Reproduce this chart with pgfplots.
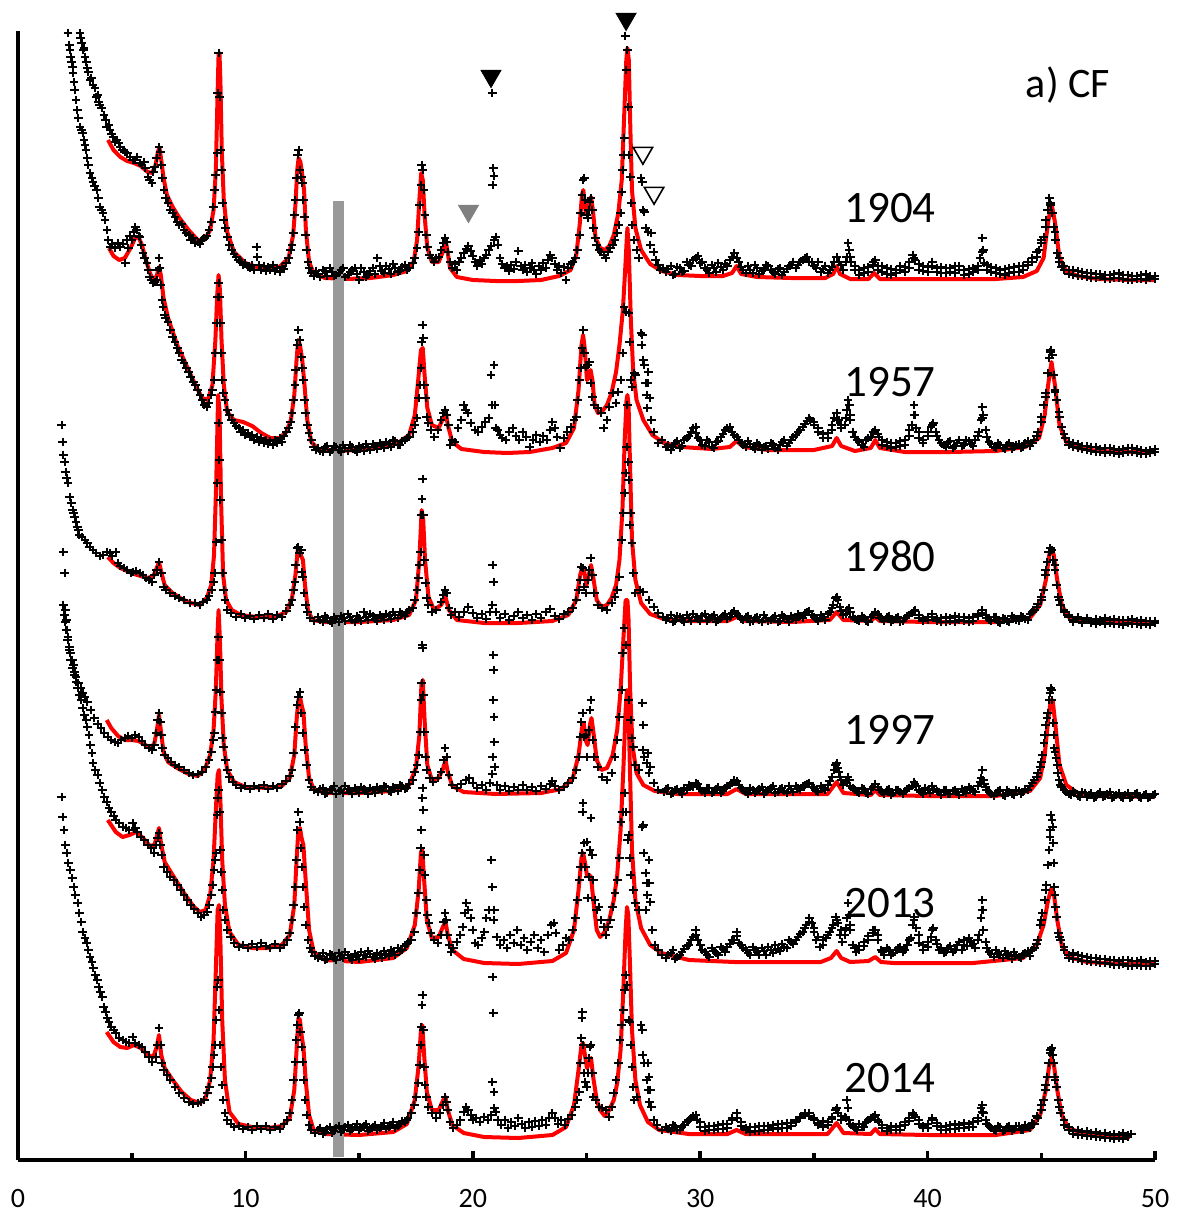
\documentclass[border=0pt]{standalone}
\usepackage{fontspec}
\setmainfont{Carlito}
\usepackage{pgfplots}
\pgfplotsset{compat=1.18}
\tikzset{yearlab/.style={font=\fontsize{22.5bp}{27bp}\selectfont, anchor=center, inner sep=0pt}}
\begin{document}
\begin{tikzpicture}
\begin{axis}[
  scale only axis, width=568.5bp, height=564.5bp,
  xmin=0, xmax=50, ymin=31, ymax=1160, y dir=reverse,
  axis x line*=bottom, axis y line*=left,
  axis line style={line width=2bp, -},
  ytick=\empty,
  xtick={0,10,...,50}, minor xtick={5,15,...,45},
  tick align=inside,
  major tick length=4.5bp, minor tick length=3.5bp,
  tick style={line width=1.8bp, black},
  xticklabel style={font=\fontsize{14bp}{16bp}\selectfont, yshift=-11bp},
  /pgf/number format/assume math mode=true,
  clip=false,
  fitline/.style={red, line width=2bp, line join=round, no marks},
  obs/.style={only marks, mark=+, mark size=2.2bp, mark options={line width=1bp, black}},
]
% ---------------- fitted profiles ----------------
% 1904
\addplot[fitline] coordinates {(3.96,140)(4.2,150)(4.5,157)(4.8,161)(5.1,163)(5.4,166)(5.7,172)(5.9,173)(6.05,165)(6.15,152)(6.22,148)(6.3,160)(6.4,178)(6.55,195)(6.8,207)(7.1,218)(7.5,230)(7.9,240)(8.2,240)(8.45,230)(8.6,210)(8.7,170)(8.77,100)(8.82,55)(8.86,53)(8.9,80)(8.96,150)(9.05,200)(9.2,232)(9.5,252)(10,263)(10.5,267)(11,268)(11.5,267)(11.9,258)(12.1,235)(12.2,205)(12.28,170)(12.34,158)(12.42,162)(12.5,175)(12.58,190)(12.66,230)(12.8,262)(13,273)(13.5,278)(14.5,279)(15.5,278)(16.5,275)(17.1,271)(17.4,262)(17.55,240)(17.65,200)(17.73,173)(17.8,180)(17.88,215)(18,248)(18.2,262)(18.5,262)(18.68,252)(18.8,240)(18.88,250)(19.0,268)(19.3,277)(20,280)(21,281)(22,281)(23,280)(23.8,276)(24.3,270)(24.55,255)(24.7,225)(24.8,195)(24.86,190)(24.95,210)(25.05,215)(25.13,200)(25.2,197)(25.28,210)(25.4,238)(25.6,248)(25.8,250)(26.0,246)(26.2,235)(26.4,213)(26.55,180)(26.65,120)(26.75,60)(26.8,48)(26.86,60)(26.93,130)(27.0,190)(27.15,228)(27.4,250)(27.8,264)(28.3,271)(29,275)(30,276)(31,276)(31.4,273)(31.6,266)(31.8,274)(32.5,277)(34,278)(35.5,278)(35.85,274)(36.0,266)(36.15,274)(36.6,279)(37.4,279)(37.65,273)(37.9,279)(39,279)(41,279)(43,279)(44.2,277)(44.8,271)(45.1,258)(45.3,222)(45.45,204)(45.6,222)(45.8,258)(46.1,271)(46.6,276)(47.5,279)(49,280)(50,280)};
% 1957
\addplot[fitline] coordinates {(4.0,248)(4.2,256)(4.45,260)(4.7,258)(4.95,248)(5.15,238)(5.3,237)(5.45,245)(5.6,258)(5.8,273)(5.95,280)(6.1,276)(6.2,267)(6.28,275)(6.4,298)(6.6,318)(7.0,345)(7.4,365)(7.8,385)(8.1,398)(8.35,400)(8.55,385)(8.68,340)(8.76,295)(8.82,275)(8.88,290)(8.95,340)(9.05,385)(9.2,412)(9.5,420)(9.9,422)(10.3,426)(10.7,433)(11.1,438)(11.5,438)(11.8,432)(12.0,420)(12.15,395)(12.25,360)(12.32,340)(12.4,345)(12.5,360)(12.6,385)(12.72,420)(12.9,442)(13.2,449)(14,451)(15,450)(16,447)(16.7,443)(17.2,435)(17.45,415)(17.6,380)(17.72,350)(17.8,348)(17.88,375)(18.0,408)(18.2,425)(18.5,428)(18.7,418)(18.8,410)(18.9,425)(19.1,442)(19.5,449)(20.5,452)(21.5,453)(22.5,452)(23.5,448)(24.1,443)(24.45,428)(24.65,390)(24.78,345)(24.85,335)(24.93,350)(25.02,380)(25.1,378)(25.18,370)(25.26,380)(25.36,405)(25.5,413)(25.7,411)(25.9,405)(26.1,393)(26.3,372)(26.45,345)(26.6,310)(26.7,270)(26.78,235)(26.8,228)(26.86,250)(26.95,320)(27.05,370)(27.2,400)(27.5,420)(27.9,435)(28.4,443)(29.2,447)(30.5,449)(31.3,447)(31.6,441)(31.9,447)(33,450)(35,450)(35.8,446)(36.0,438)(36.2,446)(36.8,451)(37.5,448)(37.7,440)(37.9,448)(39,452)(41,452)(43,451)(44.3,447)(44.9,438)(45.15,415)(45.3,385)(45.45,362)(45.6,385)(45.8,425)(46.1,442)(46.6,448)(47.5,451)(49,452)(50,452)};
% 1980
\addplot[fitline] coordinates {(3.95,557)(4.2,563)(4.5,568)(4.8,571)(5.1,574)(5.4,576)(5.7,578)(5.95,576)(6.1,568)(6.2,562)(6.3,572)(6.45,585)(6.8,593)(7.2,599)(7.6,603)(8.0,605)(8.3,598)(8.5,585)(8.62,555)(8.72,480)(8.8,395)(8.86,410)(8.93,500)(9.02,575)(9.15,600)(9.4,610)(9.8,615)(10.5,617)(11.3,617)(11.8,612)(12.05,598)(12.2,575)(12.3,550)(12.37,548)(12.45,556)(12.53,560)(12.62,585)(12.75,610)(12.95,620)(13.5,622)(15,622)(16.5,620)(17.2,615)(17.5,600)(17.65,560)(17.75,510)(17.82,520)(17.9,560)(18.05,597)(18.3,610)(18.6,605)(18.8,597)(18.95,610)(19.3,620)(20.5,623)(22,623)(23.5,621)(24.2,615)(24.55,600)(24.72,575)(24.82,567)(24.9,572)(25.0,585)(25.1,575)(25.2,565)(25.3,578)(25.45,600)(25.65,607)(25.9,605)(26.1,598)(26.3,585)(26.45,560)(26.58,510)(26.68,440)(26.76,400)(26.8,395)(26.85,405)(26.92,470)(27.0,540)(27.15,580)(27.4,603)(27.8,614)(28.4,619)(29.5,621)(31.2,621)(31.6,617)(32,621)(34,622)(35.7,620)(36.0,612)(36.3,620)(37.5,621)(37.7,617)(37.9,621)(40,622)(43,622)(44.5,618)(44.95,605)(45.2,580)(45.35,555)(45.45,548)(45.55,555)(45.7,580)(45.9,605)(46.2,617)(47,621)(48.5,622)(50,622)};
% 1997
\addplot[fitline] coordinates {(3.9,720)(4.1,728)(4.4,736)(4.7,740)(5.0,740)(5.3,741)(5.6,745)(5.85,748)(6.0,743)(6.12,728)(6.2,715)(6.28,730)(6.4,752)(6.6,762)(7.0,768)(7.5,774)(7.9,776)(8.2,770)(8.45,755)(8.6,730)(8.7,690)(8.78,630)(8.82,610)(8.88,640)(8.95,700)(9.05,745)(9.2,770)(9.5,782)(10,787)(11,788)(11.6,786)(11.95,778)(12.15,755)(12.25,720)(12.33,700)(12.4,697)(12.47,705)(12.55,712)(12.65,745)(12.8,778)(13,789)(13.5,793)(15,793)(16.5,791)(17.2,785)(17.5,768)(17.65,735)(17.74,685)(17.8,680)(17.88,720)(18.0,765)(18.2,780)(18.5,778)(18.7,768)(18.8,760)(18.9,772)(19.1,786)(19.6,792)(21,794)(23,793)(23.9,789)(24.4,778)(24.65,755)(24.8,728)(24.88,723)(24.96,740)(25.05,745)(25.15,725)(25.22,718)(25.32,735)(25.45,760)(25.65,770)(25.9,768)(26.15,755)(26.35,730)(26.5,690)(26.62,640)(26.72,600)(26.8,600)(26.85,620)(26.92,690)(27.02,745)(27.2,773)(27.5,785)(28,791)(29,794)(31.2,794)(31.6,789)(32,794)(35.6,794)(36.0,782)(36.3,793)(37.5,795)(37.7,790)(37.9,795)(40,796)(43,796)(44.5,791)(44.95,778)(45.15,755)(45.3,720)(45.42,700)(45.5,700)(45.62,725)(45.8,765)(46.1,785)(46.6,793)(47.5,796)(50,797)};
% 2013
\addplot[fitline] coordinates {(3.95,820)(4.3,832)(4.6,837)(4.9,835)(5.2,832)(5.5,838)(5.8,846)(6.0,845)(6.12,835)(6.2,828)(6.3,845)(6.45,862)(6.8,875)(7.3,893)(7.7,906)(8.0,912)(8.25,910)(8.45,895)(8.6,860)(8.7,810)(8.78,775)(8.84,770)(8.9,800)(8.98,860)(9.1,905)(9.3,932)(9.7,945)(10.3,948)(11,948)(11.6,945)(11.95,935)(12.15,905)(12.25,860)(12.33,830)(12.4,828)(12.47,838)(12.55,845)(12.65,880)(12.8,930)(13,952)(13.5,960)(15,962)(16.5,958)(17.1,948)(17.45,925)(17.62,890)(17.72,852)(17.78,850)(17.86,880)(17.98,920)(18.2,938)(18.5,937)(18.7,926)(18.8,922)(18.9,935)(19.1,950)(19.6,959)(20.5,963)(22,964)(23.5,961)(24.1,953)(24.45,930)(24.65,890)(24.78,858)(24.85,853)(24.93,862)(25.02,875)(25.12,875)(25.2,877)(25.3,900)(25.45,930)(25.6,937)(25.8,932)(26.0,920)(26.2,900)(26.35,875)(26.5,830)(26.62,770)(26.72,710)(26.78,690)(26.84,700)(26.9,760)(27.0,850)(27.15,900)(27.4,928)(27.8,945)(28.3,953)(29.5,960)(31.5,962)(33.5,962)(35.3,962)(35.75,958)(36.0,951)(36.2,958)(36.6,962)(37.4,961)(37.7,957)(37.95,962)(38.5,963)(42,963)(44.2,958)(44.8,945)(45.1,925)(45.3,900)(45.45,888)(45.55,893)(45.7,920)(45.9,945)(46.2,957)(47,962)(48.5,964)(50,964)};
% 2014
\addplot[fitline] coordinates {(3.9,1032)(4.2,1042)(4.5,1047)(4.8,1048)(5.1,1045)(5.4,1048)(5.7,1055)(5.95,1057)(6.1,1047)(6.2,1035)(6.3,1055)(6.45,1068)(6.8,1080)(7.2,1092)(7.6,1100)(8.0,1103)(8.25,1098)(8.45,1080)(8.6,1040)(8.7,970)(8.78,910)(8.84,905)(8.9,940)(8.98,1020)(9.1,1080)(9.3,1112)(9.7,1124)(10.3,1127)(11,1128)(11.6,1126)(11.95,1118)(12.15,1090)(12.25,1050)(12.33,1018)(12.4,1020)(12.47,1035)(12.55,1047)(12.65,1080)(12.8,1115)(13,1130)(13.5,1134)(15,1135)(16.5,1132)(17.1,1124)(17.45,1100)(17.62,1065)(17.72,1030)(17.78,1025)(17.86,1055)(17.98,1092)(18.2,1110)(18.5,1110)(18.7,1100)(18.8,1097)(18.9,1110)(19.1,1125)(19.6,1133)(20.5,1137)(22,1138)(23.5,1135)(24.1,1127)(24.45,1105)(24.65,1070)(24.78,1045)(24.85,1043)(24.93,1055)(25.02,1068)(25.12,1063)(25.2,1058)(25.3,1078)(25.45,1100)(25.6,1110)(25.8,1116)(26.0,1110)(26.2,1100)(26.35,1083)(26.5,1050)(26.62,990)(26.72,930)(26.78,907)(26.84,915)(26.92,970)(27.0,1030)(27.15,1080)(27.35,1105)(27.7,1122)(28.2,1130)(29.5,1134)(31.2,1134)(31.6,1130)(32,1134)(35.6,1134)(36.0,1123)(36.3,1133)(37.5,1134)(37.7,1129)(37.9,1134)(40,1135)(43,1135)(44.5,1130)(44.95,1115)(45.2,1090)(45.35,1065)(45.45,1058)(45.55,1064)(45.7,1090)(45.9,1115)(46.2,1128)(47,1135)(48.9,1137)};
% ---------------- measured points ----------------
% 1904
\addplot[obs] coordinates {(2.73,33)(2.76,38)(2.8,43)(2.87,50)(2.9,48)(2.95,57)(3.0,62)(3.05,68)(3.1,72)(3.17,80)(3.23,78)(3.3,85)(3.39,88)(3.45,97)(3.5,95)(3.55,102)(3.6,105)(3.68,108)(3.78,115)(3.85,120)(3.9,127)(4.0,125)(4.05,130)(4.12,134)(4.18,137)(4.27,142)(4.35,140)(4.42,143)(4.49,147)(4.6,150)(4.7,152)(4.8,153)(4.93,157)(5.05,160)(5.15,160)(5.25,157)(5.36,163)(5.45,165)(5.55,162)(5.6,168)(5.72,177)(5.8,180)(5.89,183)(5.95,172)(6.02,167)(6.1,158)(6.2,147)(6.25,152)(6.3,165)(6.35,178)(6.42,190)(6.5,198)(6.6,203)(6.7,210)(6.8,213)(6.9,217)(7.0,222)(7.1,225)(7.2,224)(7.3,230)(7.4,233)(7.5,235)(7.6,240)(7.7,238)(7.8,243)(7.9,242)(8.0,244)(8.1,240)(8.2,238)(8.3,236)(8.4,230)(8.5,222)(8.58,207)(8.65,190)(8.7,175)(8.75,153)(8.79,93)(8.83,53)(8.87,97)(8.91,150)(8.95,170)(9.0,203)(9.05,220)(9.12,228)(9.2,237)(9.3,245)(9.4,250)(9.5,254)(9.6,257)(9.7,260)(9.8,262)(9.9,265)(10.0,263)(10.1,267)(10.2,268)(10.3,265)(10.4,270)(10.5,247)(10.52,257)(10.6,265)(10.7,270)(10.8,266)(10.9,271)(11.0,267)(11.1,270)(11.2,265)(11.3,271)(11.4,268)(11.5,272)(11.6,267)(11.7,269)(11.8,263)(11.9,258)(12.0,250)(12.05,245)(12.1,233)(12.15,215)(12.2,200)(12.25,178)(12.3,155)(12.35,150)(12.4,170)(12.45,177)(12.5,183)(12.55,200)(12.6,217)(12.65,235)(12.7,250)(12.75,262)(12.8,268)(12.9,273)(13.0,276)(13.1,271)
(13.2,274)(13.4,270)(13.6,276)(13.8,272)(14.0,275)(14.2,270)(14.4,277)(14.6,272)(14.8,268)(15.0,280)(15.2,272)(15.4,275)(15.6,268)(15.8,258)(16.0,271)(16.2,266)(16.4,274)(16.6,268)(16.8,271)(17.0,265)(17.2,268)
(13.3,277)(13.5,271)(13.7,268)(13.9,276)(14.1,273)(14.3,268)(14.5,275)(14.7,270)(14.9,274)(15.1,268)(15.3,277)(15.5,271)(15.7,274)(15.9,266)(16.1,273)(16.3,269)(16.5,264)(16.7,272)(16.9,267)(17.1,270)
(17.35,263)(17.45,258)(17.55,248)(17.62,232)(17.67,205)(17.72,185)(17.76,165)(17.8,170)(17.85,190)(17.9,215)(17.95,235)(18.0,247)(18.1,255)(18.2,258)(18.3,262)(18.4,258)(18.5,257)(18.6,250)(18.7,243)(18.78,238)(18.85,242)(18.92,252)(19.0,262)(19.1,268)(19.2,264)(19.3,270)(19.4,262)(19.5,258)(19.6,253)(19.7,249)(19.8,246)(19.9,251)(20.0,256)(20.1,262)(20.2,266)(20.3,260)(20.4,264)(20.5,258)(20.6,255)(20.7,250)(20.8,246)(20.85,93)(20.9,168)(20.93,176)(20.88,185)(20.95,240)(21.0,237)(21.1,245)(21.2,258)(21.3,264)(21.4,268)(21.5,266)(21.6,271)(21.7,265)(21.8,269)(21.9,262)(22.0,251)(22.1,266)(22.2,270)(22.3,265)(22.4,272)(22.5,268)(22.6,263)(22.7,270)(22.8,274)(22.9,266)(23.0,270)(23.1,263)(23.2,268)(23.3,260)(23.4,255)(23.5,258)(23.6,264)(23.7,270)(23.8,266)(23.9,273)(24.0,267)(24.1,280)(24.2,268)(24.3,264)(24.4,262)(24.5,258)(24.6,250)(24.7,235)(24.75,213)(24.8,195)(24.85,180)(24.9,178)(24.95,200)(25.0,215)(25.05,218)(25.1,210)(25.15,202)(25.2,198)(25.25,210)(25.3,228)(25.38,238)(25.45,245)(25.55,250)(25.65,252)(25.75,255)(25.85,258)(25.95,252)(26.05,248)(26.15,245)(26.25,240)(26.35,233)(26.42,225)(26.5,213)(26.55,192)(26.6,170)(26.63,155)(26.67,138)(26.7,36)(26.75,70)(26.8,50)(26.83,107)(26.87,155)(26.92,177)(26.97,203)(27.02,225)(27.1,240)(27.2,250)(27.3,258)(27.4,178)(27.45,182)(27.5,210)(27.55,212)(27.6,228)(27.7,232)(27.8,245)(27.85,233)(27.95,252)(28.05,260)(28.15,265)(28.25,270)(28.35,268)
(28.5,272)(28.7,266)(28.9,274)(29.1,268)(29.3,271)(29.5,265)(29.7,260)(29.9,256)(30.1,262)(30.3,270)(30.5,265)(30.7,272)(30.9,267)(31.1,264)(31.3,260)(31.5,253)(31.7,262)(31.9,270)(32.1,266)(32.3,273)(32.5,268)(32.7,271)(32.9,265)(33.1,270)(33.3,274)(33.5,268)(33.7,272)(33.9,266)(34.1,262)(34.3,265)(34.5,260)(34.7,257)(34.9,262)(35.1,268)(35.3,272)(35.5,266)(35.7,270)(35.9,262)(36.0,257)(36.1,262)(36.3,270)(36.45,257)(36.5,243)(36.55,250)(36.65,262)(36.8,270)(37.0,275)(37.2,268)(37.4,272)(37.6,265)(37.7,260)(37.8,266)(38.0,272)(38.2,268)(38.4,275)(38.6,270)(38.8,266)(39.0,272)(39.2,268)(39.35,255)(39.45,260)(39.6,270)(39.8,266)(40.0,272)(40.2,262)(40.4,268)(40.6,273)(40.8,268)(41.0,272)(41.2,266)(41.4,270)(41.6,275)(41.8,269)(42.0,272)(42.2,266)(42.3,258)(42.4,238)(42.45,250)(42.5,263)(42.6,270)(42.8,267)(43.0,273)(43.2,270)(43.4,275)(43.6,268)(43.8,272)(44.0,266)(44.2,270)(44.4,265)(44.6,262)(44.8,257)(44.9,250)(45.0,243)(45.1,237)(45.2,227)(45.28,210)(45.35,198)(45.42,205)(45.48,213)(45.55,227)(45.62,240)(45.7,253)(45.8,262)(45.9,267)(46.0,270)(46.2,274)(46.4,270)(46.6,276)(46.8,272)(47.0,277)(47.2,273)(47.4,278)(47.6,274)(47.8,279)(48.0,275)(48.2,278)(48.4,273)(48.6,279)(48.8,275)(49.0,280)(49.2,276)(49.4,279)(49.6,274)(49.8,278)(50.0,276)
(28.6,269)(28.8,275)(29.0,267)(29.2,272)(29.4,262)(29.6,266)(29.8,258)(30.0,263)(30.2,268)(30.4,273)(30.6,268)(30.8,263)(31.0,270)(31.2,266)(31.4,257)(31.6,258)(31.8,267)(32.0,273)(32.2,270)(32.4,265)(32.6,274)(32.8,270)(33.0,266)(33.2,272)(33.4,269)(33.6,275)(33.8,269)(34.0,265)(34.2,268)(34.4,262)(34.6,258)(34.8,262)(35.0,266)(35.2,262)(35.4,269)(35.6,273)(35.8,267)(36.2,265)(36.4,262)(36.6,257)(36.8,266)(37.0,270)(37.2,273)(37.4,267)(37.6,262)(37.8,270)(38.0,266)(38.2,274)(38.4,269)(38.6,273)(38.8,270)(39.0,267)(39.2,262)(39.4,258)(39.6,264)(39.8,271)(40.0,267)(40.2,266)(40.4,272)(40.6,267)(40.8,273)(41.0,268)(41.2,273)(41.4,266)(41.6,270)(41.8,274)(42.0,268)(42.2,270)(42.4,252)(42.6,265)(42.8,272)(43.0,268)(43.2,274)(43.4,269)(43.6,273)(43.8,267)(44.0,272)(44.2,266)(44.4,262)(44.6,258)(44.8,252)(45.0,240)(45.2,220)(45.4,203)(45.6,232)(45.8,258)(46.0,266)(46.2,270)(46.4,275)(46.6,271)(46.8,276)(47.0,273)(47.2,278)(47.4,274)(47.6,277)(47.8,275)(48.0,279)(48.2,274)(48.4,278)(48.6,275)(48.8,280)(49.0,276)(49.2,279)(49.4,275)(49.6,280)(49.8,276)(50.0,279)};
% 1957
\addplot[obs] coordinates {(2.2,33)(2.25,45)(2.29,50)(2.32,57)(2.37,62)(2.4,67)(2.42,73)(2.46,82)(2.5,90)(2.55,100)(2.6,110)(2.65,118)(2.73,127)(2.8,130)(2.85,133)(2.9,140)(2.95,145)(2.99,150)(3.05,158)(3.09,165)(3.17,173)(3.25,178)(3.3,182)(3.38,186)(3.46,190)(3.53,198)(3.6,207)(3.68,210)(3.74,213)(3.83,220)(3.91,230)(3.97,240)(4.05,247)(4.15,244)(4.27,248)(4.38,243)(4.49,247)(4.6,244)(4.71,263)(4.78,240)(4.85,248)(4.92,236)(5.0,240)(5.08,232)(5.15,227)(5.22,230)(5.3,236)(5.36,237)(5.43,245)(5.5,253)(5.58,258)(5.67,263)(5.73,270)(5.8,277)(5.87,280)(5.94,283)(6.02,282)(6.1,280)(6.15,270)(6.2,258)(6.24,268)(6.28,285)(6.33,300)(6.38,307)(6.45,315)(6.5,318)(6.6,322)(6.7,330)(6.8,337)(6.9,342)(7.0,348)(7.1,353)(7.2,360)(7.3,363)(7.4,368)(7.5,372)(7.6,377)(7.7,382)(7.8,385)(7.9,390)(8.0,395)(8.1,400)(8.2,405)(8.3,407)(8.4,403)(8.5,395)(8.55,390)(8.62,380)(8.68,353)(8.73,323)(8.78,297)(8.82,283)(8.86,297)(8.9,323)(8.94,353)(8.98,380)(9.03,393)(9.1,400)(9.2,410)(9.3,415)(9.4,420)(9.5,423)(9.6,426)(9.7,428)(9.8,432)(9.9,430)(10.0,435)(10.1,433)(10.2,437)(10.3,435)(10.4,440)(10.5,437)(10.6,442)(10.7,438)(10.8,443)(10.9,440)(11.0,444)(11.1,441)(11.2,445)(11.3,440)(11.4,443)(11.5,438)(11.6,442)(11.7,436)(11.8,432)(11.9,428)(12.0,422)(12.05,413)(12.12,400)(12.18,385)(12.22,370)(12.28,345)(12.32,330)(12.38,340)(12.45,357)(12.5,368)(12.55,380)(12.6,400)(12.65,413)(12.72,425)(12.8,433)(12.9,440)(13.0,447)(13.1,450)
(13.2,448)(13.4,452)(13.6,446)(13.8,450)(14.0,447)(14.2,452)(14.4,448)(14.6,445)(14.8,450)(15.0,446)(15.2,451)(15.4,447)(15.6,444)(15.8,449)(16.0,445)(16.2,442)(16.4,447)(16.6,441)(16.8,445)(17.0,440)(17.2,437)
(13.3,451)(13.5,447)(13.7,452)(13.9,446)(14.1,450)(14.3,445)(14.5,451)(14.7,447)(14.9,452)(15.1,448)(15.3,444)(15.5,450)(15.7,446)(15.9,443)(16.1,448)(16.3,444)(16.5,440)(16.7,445)(16.9,441)(17.1,438)
(17.35,432)(17.45,425)(17.55,418)(17.62,398)(17.68,385)(17.72,368)(17.76,342)(17.8,325)(17.83,338)(17.87,385)(17.92,398)(17.97,417)(18.05,423)(18.15,430)(18.3,437)(18.45,430)(18.6,420)(18.7,413)(18.78,410)(18.85,415)(18.92,425)(19.0,445)(19.1,440)(19.2,442)(19.35,428)(19.5,420)(19.6,405)(19.68,410)(19.78,413)(19.9,423)(20.1,430)(20.25,432)(20.4,427)(20.55,422)(20.7,418)(20.8,375)(20.86,405)(20.93,365)(20.96,405)(21.0,428)(21.1,430)(21.2,435)(21.3,438)(21.45,440)(21.6,432)(21.75,428)(21.9,436)(22.05,440)(22.2,432)(22.35,437)(22.5,447)(22.65,440)(22.8,435)(22.95,442)(23.1,436)(23.25,440)(23.4,430)(23.5,422)(23.6,428)(23.7,437)(23.85,448)(24.0,438)(24.15,432)(24.3,427)(24.45,420)(24.55,417)(24.62,400)(24.68,380)(24.74,368)(24.8,348)(24.86,330)(24.9,353)(24.97,367)(25.05,365)(25.12,362)(25.18,383)(25.25,397)(25.35,405)(25.5,408)(25.65,413)(25.75,428)(25.9,420)(26.0,407)(26.15,393)(26.3,403)(26.4,392)(26.5,380)(26.6,353)(26.65,307)(26.75,312)(26.85,313)(26.9,342)(26.95,380)(27.0,387)(27.1,373)(27.15,375)(27.4,333)(27.45,335)(27.42,345)(27.5,360)(27.55,365)(27.6,383)(27.72,372)(27.7,383)(27.65,395)(27.78,398)(27.68,408)(27.85,420)(27.95,432)(28.15,443)(28.3,440)(28.5,447)
(28.7,450)(28.9,443)(29.1,448)(29.3,440)(29.5,436)(29.7,428)(29.8,433)(29.9,438)(30.1,445)(30.3,440)(30.5,447)(30.7,442)(30.9,437)(31.1,430)(31.3,427)(31.5,435)(31.7,440)(31.9,445)(32.1,441)(32.3,447)(32.5,443)(32.7,450)(32.9,446)(33.1,443)(33.3,448)(33.5,445)(33.7,440)(33.9,443)(34.1,437)(34.3,432)(34.5,427)(34.7,421)(34.85,420)(35.0,425)(35.2,432)(35.4,438)(35.6,433)(35.8,425)(35.9,418)(36.0,413)(36.1,420)(36.2,428)(36.35,425)(36.45,410)(36.5,400)(36.55,405)(36.6,420)(36.7,432)(36.9,440)(37.1,445)(37.3,440)(37.5,437)(37.7,430)(37.85,437)(38.0,445)(38.2,442)(38.4,448)(38.6,443)(38.8,446)(39.0,440)(39.2,436)(39.3,425)(39.4,405)(39.45,415)(39.5,428)(39.6,438)(39.8,443)(40.0,436)(40.15,427)(40.25,423)(40.35,432)(40.5,440)(40.7,445)(40.9,442)(41.1,448)(41.3,443)(41.5,446)(41.7,440)(41.9,444)(42.1,440)(42.25,432)(42.35,420)(42.4,407)(42.45,415)(42.55,430)(42.7,442)(42.9,447)(43.1,443)(43.3,448)(43.5,445)(43.7,449)(43.9,445)(44.1,448)(44.3,443)(44.5,446)(44.7,440)(44.85,432)(45.0,417)(45.1,405)(45.2,393)(45.28,373)(45.36,358)(45.42,350)(45.48,355)(45.55,375)(45.6,390)(45.68,400)(45.78,412)(45.9,427)(46.05,438)(46.2,442)(46.4,447)(46.6,444)(46.8,449)(47.0,446)(47.2,451)(47.4,447)(47.6,452)(47.8,448)(48.0,452)(48.2,449)(48.4,454)(48.6,449)(48.8,452)(49.0,448)(49.2,453)(49.4,450)(49.6,454)(49.8,450)(50.0,452)
(28.6,445)(28.8,447)(29.0,441)(29.2,446)(29.4,438)(29.6,432)(29.8,427)(30.0,440)(30.2,446)(30.4,442)(30.6,448)(30.8,441)(31.0,434)(31.2,428)(31.4,432)(31.6,437)(31.8,443)(32.0,447)(32.2,444)(32.4,449)(32.6,445)(32.8,447)(33.0,449)(33.2,444)(33.4,450)(33.6,442)(33.8,446)(34.0,440)(34.2,435)(34.4,430)(34.6,424)(34.8,418)(35.0,422)(35.2,428)(35.4,434)(35.6,438)(35.8,430)(36.0,420)(36.2,425)(36.4,418)(36.6,415)(36.8,437)(37.0,442)(37.2,447)(37.4,438)(37.6,432)(37.8,434)(38.0,440)(38.2,446)(38.4,443)(38.6,447)(38.8,441)(39.0,445)(39.2,430)(39.4,415)(39.6,432)(39.8,440)(40.0,432)(40.2,425)(40.4,436)(40.6,443)(40.8,447)(41.0,441)(41.2,446)(41.4,440)(41.6,445)(41.8,441)(42.0,446)(42.2,436)(42.4,418)(42.6,437)(42.8,444)(43.0,448)(43.2,445)(43.4,449)(43.6,443)(43.8,447)(44.0,444)(44.2,447)(44.4,441)(44.6,443)(44.8,436)(45.0,422)(45.2,397)(45.4,352)(45.6,392)(45.8,417)(46.0,434)(46.2,445)(46.4,443)(46.6,448)(46.8,446)(47.0,450)(47.2,447)(47.4,452)(47.6,449)(47.8,453)(48.0,448)(48.2,453)(48.4,450)(48.6,453)(48.8,448)(49.0,452)(49.2,449)(49.4,454)(49.6,451)(49.8,453)(50.0,449)};
% 1980
\addplot[obs] coordinates {(1.93,425)(1.97,442)(2.0,455)(2.05,462)(2.1,472)(2.15,478)(2.2,483)(2.28,497)(2.35,503)(2.4,510)(2.45,513)(2.5,517)(2.55,522)(2.6,527)(2.65,530)(2.7,535)(2.8,537)(2.95,540)(3.05,543)(3.15,547)(3.3,550)(3.45,553)(3.6,556)(3.75,555)(3.9,552)(4.05,553)(4.15,556)(4.3,552)(4.4,563)(4.5,566)(4.65,568)(4.8,570)(4.95,573)(5.05,572)(5.2,571)(5.35,573)(5.5,575)(5.65,578)(5.75,580)(5.9,582)(6.0,575)(6.1,570)(6.2,562)(6.3,573)(6.4,587)(6.5,590)(6.7,593)(6.9,596)(7.1,598)(7.3,600)(7.55,603)(7.8,603)(8.0,605)(8.15,602)(8.3,600)(8.4,596)(8.52,590)(8.6,582)(8.65,573)(8.72,542)(8.77,483)(8.82,423)(8.86,460)(8.9,500)(8.95,540)(9.0,573)(9.05,590)(9.1,600)(9.2,610)(9.35,613)(9.6,617)(9.8,614)(10.0,618)(10.2,616)(10.4,619)(10.6,615)(10.8,618)(11.0,614)(11.2,619)(11.4,615)(11.6,617)(11.8,611)(11.95,605)(12.05,600)(12.12,590)(12.18,582)(12.22,565)(12.27,548)(12.32,547)(12.38,553)(12.45,550)(12.48,572)(12.52,577)(12.58,593)(12.65,605)(12.72,612)(12.85,618)(13.0,621)
(13.2,617)(13.4,622)(13.6,618)(13.8,623)(14.0,619)(14.2,616)(14.4,621)(14.6,617)(14.8,622)(15.0,618)(15.2,612)(15.4,620)(15.6,616)(15.8,621)(16.0,617)(16.2,614)(16.4,619)(16.6,615)(16.8,612)(17.0,616)(17.2,610)
(13.3,620)(13.5,616)(13.7,621)(13.9,617)(14.1,622)(14.3,618)(14.5,614)(14.7,620)(14.9,616)(15.1,621)(15.3,617)(15.5,614)(15.7,619)(15.9,615)(16.1,620)(16.3,616)(16.5,612)(16.7,618)(16.9,614)(17.1,612)
(17.35,608)(17.45,600)(17.55,590)(17.6,578)(17.65,565)(17.7,552)(17.74,515)(17.77,499)(17.8,479)(17.83,515)(17.87,560)(17.92,583)(17.98,598)(18.05,605)(18.2,612)(18.4,610)(18.6,602)(18.7,595)(18.78,590)(18.85,593)(18.95,608)(19.05,615)(19.2,612)(19.4,617)(19.6,612)(19.8,607)(20.0,613)(20.2,618)(20.4,614)(20.6,619)(20.75,612)(20.85,605)(20.88,565)(20.92,582)(21.0,612)(21.2,618)(21.4,614)(21.6,620)(21.8,616)(22.0,612)(22.2,618)(22.4,615)(22.6,620)(22.8,614)(23.0,618)(23.2,612)(23.4,609)(23.6,616)(23.8,619)(24.0,614)(24.2,612)(24.4,608)(24.55,600)(24.65,590)(24.72,580)(24.78,567)(24.85,568)(24.9,587)(24.97,593)(25.05,580)(25.12,570)(25.18,558)(25.25,575)(25.35,593)(25.5,605)(25.7,608)(25.9,610)(26.1,603)(26.25,597)(26.35,590)(26.45,577)(26.55,540)(26.62,513)(26.68,493)(26.72,473)(26.76,447)(26.8,405)(26.83,462)(26.86,480)(26.9,525)(26.95,513)(27.0,543)(27.05,573)(27.15,593)(27.35,590)(27.5,592)(27.75,600)(27.95,607)(28.15,613)(28.35,617)
(28.5,620)(28.7,615)(28.9,621)(29.1,617)(29.3,622)(29.5,618)(29.7,614)(29.9,619)(30.1,616)(30.3,621)(30.5,617)(30.7,622)(30.9,618)(31.1,614)(31.3,617)(31.5,611)(31.7,616)(31.9,620)(32.1,616)(32.3,621)(32.5,617)(32.7,622)(32.9,618)(33.1,620)(33.3,616)(33.5,621)(33.7,617)(33.9,622)(34.1,618)(34.3,614)(34.5,618)(34.7,612)(34.9,615)(35.1,619)(35.3,615)(35.5,620)(35.7,612)(35.85,605)(35.95,598)(36.05,600)(36.15,607)(36.3,615)(36.45,610)(36.55,608)(36.7,617)(36.9,620)(37.1,616)(37.3,621)(37.5,617)(37.7,612)(37.9,618)(38.1,621)(38.3,616)(38.5,620)(38.7,617)(38.9,621)(39.1,616)(39.3,613)(39.45,610)(39.6,618)(39.8,621)(40.0,617)(40.2,614)(40.4,619)(40.6,622)(40.8,617)(41.0,621)(41.2,616)(41.4,620)(41.6,617)(41.8,622)(42.0,617)(42.2,614)(42.4,610)(42.55,615)(42.7,620)(42.9,617)(43.1,622)(43.3,618)(43.5,621)(43.7,616)(43.9,620)(44.1,616)(44.3,619)(44.5,614)(44.7,610)(44.85,604)(45.0,597)(45.1,590)(45.18,575)(45.25,562)(45.32,552)(45.4,548)(45.47,550)(45.53,560)(45.6,570)(45.67,585)(45.75,597)(45.85,605)(46.0,612)(46.2,617)(46.4,620)(46.6,617)(46.8,622)(47.0,618)(47.2,623)(47.4,619)(47.6,622)(47.8,618)(48.0,623)(48.2,619)(48.4,624)(48.6,620)(48.8,623)(49.0,619)(49.2,624)(49.4,620)(49.6,624)(49.8,621)(50.0,623)
(28.6,618)(28.8,622)(29.0,616)(29.2,620)(29.4,615)(29.6,621)(29.8,617)(30.0,621)(30.2,614)(30.4,619)(30.6,615)(30.8,620)(31.0,616)(31.2,619)(31.4,613)(31.6,614)(31.8,619)(32.0,617)(32.2,622)(32.4,618)(32.6,620)(32.8,615)(33.0,621)(33.2,618)(33.4,622)(33.6,615)(33.8,619)(34.0,616)(34.2,620)(34.4,616)(34.6,613)(34.8,611)(35.0,617)(35.2,621)(35.4,617)(35.6,614)(35.8,608)(36.0,597)(36.2,611)(36.4,614)(36.6,612)(36.8,619)(37.0,621)(37.2,618)(37.4,622)(37.6,615)(37.8,614)(38.0,619)(38.2,617)(38.4,622)(38.6,618)(38.8,622)(39.0,618)(39.2,615)(39.4,611)(39.6,615)(39.8,619)(40.0,620)(40.2,617)(40.4,621)(40.6,618)(40.8,622)(41.0,618)(41.2,622)(41.4,617)(41.6,621)(41.8,618)(42.0,621)(42.2,616)(42.4,613)(42.6,618)(42.8,621)(43.0,617)(43.2,623)(43.4,619)(43.6,622)(43.8,618)(44.0,621)(44.2,617)(44.4,620)(44.6,612)(44.8,607)(45.0,600)(45.2,570)(45.4,552)(45.6,565)(45.8,600)(46.0,610)(46.2,615)(46.4,622)(46.6,619)(46.8,623)(47.0,620)(47.2,621)(47.4,624)(47.6,620)(47.8,624)(48.0,620)(48.2,624)(48.4,620)(48.6,625)(48.8,620)(49.0,624)(49.2,621)(49.4,625)(49.6,621)(49.8,625)(50.0,621)};
% 1997
\addplot[obs] coordinates {(2.0,552)(2.05,573)(2.08,610)(2.12,620)(2.15,630)(2.2,637)(2.25,647)(2.3,653)(2.38,660)(2.45,665)(2.5,672)(2.55,677)(2.65,683)(2.75,688)(2.85,693)(2.95,697)(3.05,702)(3.2,710)(3.35,718)(3.5,724)(3.65,728)(3.8,733)(3.95,737)(4.1,740)(4.25,742)(4.4,743)(4.55,740)(4.7,738)(4.85,736)(5.0,738)(5.15,735)(5.3,737)(5.45,741)(5.6,745)(5.75,748)(5.9,750)(6.0,745)(6.08,733)(6.15,720)(6.2,713)(6.25,722)(6.3,735)(6.35,748)(6.45,755)(6.6,758)(6.75,762)(6.9,765)(7.1,767)(7.3,770)(7.5,773)(7.7,775)(7.9,774)(8.1,772)(8.25,767)(8.4,760)(8.5,752)(8.58,740)(8.63,733)(8.68,712)(8.72,690)(8.77,660)(8.81,637)(8.85,660)(8.9,692)(8.95,713)(9.0,738)(9.05,747)(9.12,760)(9.2,770)(9.3,777)(9.45,782)(9.6,785)(9.8,788)(10.0,786)(10.2,789)(10.4,786)(10.6,788)(10.8,785)(11.0,789)(11.2,786)(11.4,788)(11.6,784)(11.8,781)(11.95,776)(12.05,770)(12.12,753)(12.2,727)(12.27,705)(12.33,697)(12.4,692)(12.46,713)(12.52,733)(12.6,750)(12.7,765)(12.8,780)(12.9,787)(13.0,790)
(13.2,792)(13.4,788)(13.6,793)(13.8,789)(14.0,794)(14.2,790)(14.4,786)(14.6,791)(14.8,788)(15.0,793)(15.2,789)(15.4,794)(15.6,790)(15.8,787)(16.0,791)(16.2,787)(16.4,792)(16.6,788)(16.8,785)(17.0,789)(17.2,784)
(13.3,789)(13.5,794)(13.7,790)(13.9,786)(14.1,791)(14.3,793)(14.5,789)(14.7,794)(14.9,790)(15.1,787)(15.3,791)(15.5,788)(15.7,793)(15.9,789)(16.1,786)(16.3,791)(16.5,787)(16.7,791)(16.9,786)(17.1,788)
(17.35,780)(17.45,772)(17.55,765)(17.62,755)(17.68,732)(17.72,700)(17.76,683)(17.8,648)(17.78,645)(17.83,695)(17.87,732)(17.92,757)(17.98,770)(18.1,778)(18.25,782)(18.45,778)(18.6,772)(18.72,760)(18.78,748)(18.85,757)(18.95,775)(19.1,785)(19.3,788)(19.5,784)(19.7,780)(19.85,778)(20.0,783)(20.2,788)(20.4,785)(20.6,790)(20.75,783)(20.85,774)(20.88,757)(20.9,700)(20.91,655)(20.92,670)(20.93,717)(20.95,742)(20.97,767)(21.05,785)(21.2,790)(21.4,786)(21.6,791)(21.8,787)(22.0,790)(22.2,785)(22.4,790)(22.6,787)(22.8,791)(23.0,786)(23.2,789)(23.4,784)(23.5,781)(23.6,786)(23.8,790)(24.0,787)(24.2,783)(24.4,778)(24.55,770)(24.65,757)(24.72,737)(24.78,722)(24.84,713)(24.9,737)(24.97,735)(25.02,757)(25.1,730)(25.15,710)(25.2,700)(25.27,740)(25.35,757)(25.5,767)(25.7,777)(25.9,780)(26.1,773)(26.25,757)(26.35,740)(26.45,717)(26.55,690)(26.6,653)(26.65,628)(26.75,645)(26.85,700)(26.95,720)(27.0,738)(27.05,747)(27.15,765)(27.3,770)(27.45,703)(27.5,725)(27.47,750)(27.55,757)(27.7,753)(27.65,763)(27.8,767)(27.75,773)(27.95,783)(28.15,790)
(28.4,792)(28.6,788)(28.8,793)(29.0,789)(29.2,794)(29.4,790)(29.6,786)(29.8,783)(30.0,789)(30.2,793)(30.4,788)(30.6,792)(30.8,787)(31.0,791)(31.2,786)(31.4,783)(31.6,781)(31.8,788)(32.0,792)(32.2,788)(32.4,793)(32.6,789)(32.8,794)(33.0,790)(33.2,786)(33.4,792)(33.6,788)(33.8,793)(34.0,789)(34.2,786)(34.4,790)(34.6,785)(34.8,783)(35.0,788)(35.2,792)(35.4,788)(35.6,785)(35.8,777)(35.9,770)(36.0,763)(36.05,768)(36.15,777)(36.3,785)(36.45,783)(36.55,780)(36.7,788)(36.9,792)(37.1,788)(37.3,793)(37.5,789)(37.7,784)(37.9,790)(38.1,794)(38.3,789)(38.5,793)(38.7,790)(38.9,794)(39.1,789)(39.3,786)(39.45,784)(39.6,790)(39.8,794)(40.0,790)(40.2,786)(40.4,791)(40.6,795)(40.8,790)(41.0,794)(41.2,790)(41.4,795)(41.6,791)(41.8,787)(42.0,791)(42.2,786)(42.35,778)(42.4,770)(42.45,780)(42.55,787)(42.7,792)(42.9,796)(43.1,791)(43.3,795)(43.5,790)(43.7,794)(43.9,790)(44.1,794)(44.3,789)(44.5,786)(44.7,780)(44.85,773)(44.95,767)(45.05,755)(45.12,743)(45.2,725)(45.28,713)(45.35,700)(45.42,688)(45.47,700)(45.52,723)(45.58,748)(45.65,758)(45.72,773)(45.85,785)(46.0,790)(46.2,794)(46.4,791)(46.6,796)(46.8,792)(47.0,797)(47.2,793)(47.4,797)(47.6,792)(47.8,796)(48.0,792)(48.2,797)(48.4,793)(48.6,798)(48.8,793)(49.0,797)(49.2,793)(49.4,798)(49.6,794)(49.8,797)(50.0,794)
(28.5,789)(28.7,794)(28.9,790)(29.1,792)(29.3,788)(29.5,785)(29.7,787)(29.9,784)(30.1,791)(30.3,788)(30.5,793)(30.7,789)(30.9,793)(31.1,788)(31.3,785)(31.5,780)(31.7,785)(31.9,790)(32.1,794)(32.3,790)(32.5,791)(32.7,787)(32.9,792)(33.1,788)(33.3,793)(33.5,789)(33.7,791)(33.9,786)(34.1,792)(34.3,788)(34.5,786)(34.7,784)(34.9,787)(35.1,791)(35.3,786)(35.5,790)(35.7,781)(35.95,765)(36.1,772)(36.2,780)(36.4,781)(36.5,777)(36.6,786)(36.8,790)(37.0,793)(37.2,789)(37.4,794)(37.6,787)(37.8,787)(38.0,792)(38.2,790)(38.4,795)(38.6,790)(38.8,792)(39.0,791)(39.2,788)(39.4,782)(39.5,786)(39.7,792)(39.9,788)(40.1,793)(40.3,789)(40.5,792)(40.7,790)(40.9,794)(41.1,791)(41.3,792)(41.5,789)(41.7,793)(41.9,789)(42.1,792)(42.3,782)(42.5,784)(42.6,790)(42.8,794)(43.0,793)(43.2,790)(43.4,796)(43.6,792)(43.8,795)(44.0,791)(44.2,792)(44.4,790)(44.6,783)(44.8,777)(45.0,762)(45.15,735)(45.25,718)(45.38,693)(45.45,690)(45.55,735)(45.6,752)(45.7,765)(45.8,780)(45.9,787)(46.1,792)(46.3,795)(46.5,793)(46.7,797)(46.9,793)(47.1,795)(47.3,798)(47.5,794)(47.7,797)(47.9,794)(48.1,798)(48.3,795)(48.5,797)(48.7,795)(48.9,798)(49.1,794)(49.3,797)(49.5,795)(49.7,798)(49.9,795)};
% 2013
\addplot[obs] coordinates {(2.0,605)(2.04,615)(2.08,622)(2.12,630)(2.18,640)(2.25,650)(2.32,660)(2.4,668)(2.48,675)(2.55,682)(2.62,688)(2.7,695)(2.78,700)(2.85,708)(2.92,715)(3.0,720)(3.05,727)(3.12,735)(3.18,745)(3.25,753)(3.3,763)(3.4,770)(3.5,775)(3.6,783)(3.7,790)(3.8,797)(3.9,802)(4.0,808)(4.1,812)(4.2,816)(4.3,820)(4.45,823)(4.6,827)(4.75,828)(4.9,830)(5.05,823)(5.15,828)(5.25,832)(5.4,837)(5.55,840)(5.7,845)(5.85,848)(6.0,853)(6.08,845)(6.15,838)(6.2,833)(6.25,845)(6.32,855)(6.4,867)(6.55,872)(6.7,877)(6.85,880)(7.0,885)(7.15,890)(7.3,895)(7.45,900)(7.6,905)(7.75,909)(7.9,913)(8.05,917)(8.2,915)(8.32,912)(8.42,905)(8.5,895)(8.56,885)(8.62,870)(8.67,860)(8.71,853)(8.75,815)(8.79,798)(8.83,790)(8.87,812)(8.9,850)(8.94,872)(8.98,890)(9.03,910)(9.1,920)(9.2,930)(9.35,937)(9.5,943)(9.7,947)(9.9,945)(10.1,948)(10.3,944)(10.5,947)(10.7,943)(10.9,946)(11.1,948)(11.3,944)(11.5,948)(11.7,945)(11.85,940)(11.95,933)(12.05,920)(12.12,905)(12.18,887)(12.23,860)(12.28,830)(12.32,812)(12.38,822)(12.43,848)(12.47,867)(12.52,887)(12.58,907)(12.65,925)(12.75,940)(12.85,948)(12.95,952)(13.05,956)
(13.2,958)(13.4,953)(13.6,959)(13.8,955)(14.0,960)(14.2,956)(14.4,952)(14.6,958)(14.8,954)(15.0,959)(15.2,955)(15.4,951)(15.6,957)(15.8,953)(16.0,958)(16.2,954)(16.4,950)(16.6,955)(16.8,951)(17.0,946)(17.15,942)
(13.3,956)(13.5,960)(13.7,954)(13.9,958)(14.1,953)(14.3,958)(14.5,955)(14.7,960)(14.9,956)(15.1,952)(15.3,957)(15.5,954)(15.7,959)(15.9,955)(16.1,951)(16.3,956)(16.5,952)(16.7,948)(16.9,950)(17.1,944)
(17.3,940)(17.42,932)(17.52,913)(17.6,893)(17.66,870)(17.7,848)(17.74,830)(17.78,798)(17.8,788)(17.82,810)(17.86,855)(17.9,875)(17.95,900)(18.0,915)(18.07,923)(18.15,933)(18.3,940)(18.45,943)(18.6,935)(18.72,922)(18.78,913)(18.84,920)(18.88,935)(18.95,945)(19.05,952)(19.15,948)(19.3,942)(19.45,935)(19.55,927)(19.65,913)(19.72,903)(19.8,910)(19.9,918)(20.0,930)(20.1,943)(20.25,945)(20.4,938)(20.5,932)(20.6,918)(20.7,910)(20.82,860)(20.86,887)(20.92,920)(20.95,910)(21.05,937)(21.2,945)(21.35,940)(21.5,948)(21.65,935)(21.8,943)(21.95,930)(22.1,945)(22.25,938)(22.4,950)(22.55,942)(22.7,935)(22.85,948)(23.0,940)(23.15,952)(23.3,935)(23.45,925)(23.55,923)(23.65,933)(23.8,950)(23.95,945)(24.1,938)(24.25,940)(24.4,930)(24.5,918)(24.6,900)(24.68,880)(24.74,867)(24.8,853)(24.83,812)(24.85,803)(24.9,843)(24.95,867)(25.0,842)(25.05,898)(25.1,877)(25.15,850)(25.2,818)(25.25,855)(25.3,880)(25.37,900)(25.45,910)(25.55,907)(25.65,920)(25.75,927)(25.85,935)(25.95,927)(26.05,920)(26.15,907)(26.25,893)(26.35,880)(26.45,858)(26.52,822)(26.6,812)(26.68,793)(26.75,812)(26.82,840)(26.86,835)(26.9,858)(26.95,875)(27.05,890)(27.15,903)(27.3,910)(27.45,827)(27.5,825)(27.52,853)(27.6,873)(27.65,883)(27.75,860)(27.77,883)(27.68,895)(27.8,902)(27.62,910)(27.9,930)(28.0,945)(28.15,950)(28.3,955)
(28.5,958)(28.7,953)(28.9,959)(29.1,955)(29.3,949)(29.5,945)(29.7,937)(29.8,930)(29.9,940)(30.1,950)(30.3,955)(30.5,948)(30.7,953)(30.9,947)(31.1,952)(31.3,944)(31.5,940)(31.6,932)(31.7,943)(31.9,948)(32.1,953)(32.3,947)(32.5,952)(32.7,948)(32.9,955)(33.1,950)(33.3,945)(33.5,951)(33.7,947)(33.9,940)(34.1,944)(34.3,937)(34.5,932)(34.65,925)(34.8,918)(34.9,923)(35.0,932)(35.1,940)(35.25,947)(35.4,945)(35.55,938)(35.7,932)(35.85,925)(35.95,917)(36.05,923)(36.15,935)(36.25,942)(36.35,935)(36.45,918)(36.5,903)(36.55,915)(36.6,930)(36.7,945)(36.85,952)(37.0,950)(37.2,946)(37.4,940)(37.6,933)(37.7,930)(37.8,940)(37.95,950)(38.1,955)(38.3,950)(38.5,953)(38.7,948)(38.9,952)(39.1,945)(39.25,938)(39.35,925)(39.42,917)(39.5,928)(39.6,943)(39.8,950)(40.0,947)(40.15,937)(40.25,928)(40.35,940)(40.5,950)(40.7,953)(40.9,948)(41.1,952)(41.3,945)(41.5,950)(41.6,940)(41.75,946)(41.9,942)(42.1,948)(42.25,935)(42.35,918)(42.4,900)(42.43,910)(42.45,930)(42.55,942)(42.7,952)(42.9,957)(43.1,953)(43.3,958)(43.5,954)(43.7,959)(43.9,955)(44.1,958)(44.3,953)(44.5,956)(44.7,948)(44.85,940)(44.95,925)(45.05,913)(45.15,900)(45.22,885)(45.28,865)(45.34,850)(45.38,837)(45.42,815)(45.47,820)(45.5,827)(45.53,843)(45.55,863)(45.58,887)(45.62,907)(45.68,917)(45.75,933)(45.85,940)(46.0,950)(46.2,955)(46.4,959)(46.6,955)(46.8,961)(47.0,957)(47.2,962)(47.4,958)(47.6,963)(47.8,959)(48.0,964)(48.2,960)(48.4,965)(48.6,960)(48.8,966)(49.0,961)(49.2,965)(49.4,960)(49.6,966)(49.8,961)(50.0,964)
(28.6,955)(28.8,950)(29.0,957)(29.2,952)(29.4,946)(29.6,940)(29.8,935)(30.0,945)(30.2,952)(30.4,957)(30.6,951)(30.8,955)(31.0,949)(31.2,947)(31.4,940)(31.6,936)(31.8,945)(32.0,950)(32.2,955)(32.4,950)(32.6,955)(32.8,951)(33.0,947)(33.2,953)(33.4,949)(33.6,944)(33.8,948)(34.0,942)(34.2,940)(34.4,934)(34.6,928)(34.8,922)(35.0,928)(35.2,937)(35.4,940)(35.6,935)(35.8,928)(36.0,920)(36.2,930)(36.4,928)(36.6,925)(36.8,948)(37.0,946)(37.2,942)(37.4,936)(37.6,930)(37.8,935)(38.0,952)(38.2,948)(38.4,955)(38.6,950)(38.8,947)(39.0,950)(39.2,940)(39.4,920)(39.6,935)(39.8,945)(40.0,942)(40.2,930)(40.4,944)(40.6,948)(40.8,952)(41.0,946)(41.2,950)(41.4,942)(41.6,945)(41.8,938)(42.0,944)(42.2,940)(42.4,910)(42.6,948)(42.8,954)(43.0,950)(43.2,955)(43.4,951)(43.6,956)(43.8,952)(44.0,957)(44.2,954)(44.4,951)(44.6,950)(44.8,944)(45.0,920)(45.2,890)(45.4,830)(45.6,895)(45.8,937)(46.0,947)(46.2,958)(46.4,953)(46.6,959)(46.8,956)(47.0,961)(47.2,958)(47.4,962)(47.6,959)(47.8,963)(48.0,960)(48.2,965)(48.4,961)(48.6,964)(48.8,960)(49.0,966)(49.2,961)(49.4,966)(49.6,962)(49.8,966)(50.0,961)};
% 2014
\addplot[obs] coordinates {(1.93,797)(1.97,817)(2.02,830)(2.08,845)(2.15,853)(2.22,863)(2.3,870)(2.38,878)(2.45,887)(2.52,895)(2.62,903)(2.7,913)(2.78,922)(2.85,932)(2.95,938)(3.02,943)(3.1,950)(3.17,957)(3.25,962)(3.32,968)(3.4,975)(3.48,980)(3.55,987)(3.62,992)(3.7,997)(3.77,1007)(3.85,1012)(3.93,1018)(4.0,1022)(4.1,1027)(4.2,1030)(4.3,1033)(4.45,1038)(4.6,1040)(4.75,1042)(4.9,1043)(5.05,1037)(5.15,1043)(5.3,1045)(5.45,1047)(5.6,1052)(5.75,1057)(5.9,1062)(6.05,1057)(6.12,1045)(6.2,1028)(6.27,1045)(6.32,1063)(6.4,1070)(6.55,1075)(6.7,1080)(6.9,1087)(7.1,1093)(7.3,1098)(7.5,1102)(7.7,1104)(7.9,1103)(8.05,1102)(8.2,1100)(8.32,1093)(8.42,1087)(8.5,1078)(8.57,1067)(8.62,1055)(8.67,1045)(8.72,1020)(8.76,987)(8.8,980)(8.84,1010)(8.88,1045)(8.93,1067)(8.98,1085)(9.03,1100)(9.1,1113)(9.2,1120)(9.35,1124)(9.5,1127)(9.7,1126)(9.9,1129)(10.1,1127)(10.3,1130)(10.5,1126)(10.7,1129)(10.9,1126)(11.1,1130)(11.3,1127)(11.5,1129)(11.7,1124)(11.85,1120)(11.95,1113)(12.05,1100)(12.12,1080)(12.18,1062)(12.23,1040)(12.28,1025)(12.32,1015)(12.37,1013)(12.42,1032)(12.47,1047)(12.52,1062)(12.57,1080)(12.62,1100)(12.7,1115)(12.8,1125)(12.9,1130)(13.05,1133)
(13.2,1130)(13.4,1134)(13.6,1129)(13.8,1133)(14.0,1128)(14.2,1132)(14.4,1127)(14.6,1131)(14.8,1127)(15.0,1130)(15.2,1126)(15.4,1131)(15.6,1127)(15.8,1130)(16.0,1126)(16.2,1129)(16.4,1125)(16.6,1128)(16.8,1124)(17.0,1122)(17.15,1118)
(13.3,1128)(13.5,1132)(13.7,1127)(13.9,1131)(14.1,1126)(14.3,1130)(14.5,1125)(14.7,1129)(14.9,1124)(15.1,1128)(15.3,1124)(15.5,1129)(15.7,1125)(15.9,1128)(16.1,1123)(16.3,1127)(16.5,1122)(16.7,1126)(16.9,1121)(17.1,1120)
(17.3,1113)(17.42,1105)(17.52,1097)(17.6,1083)(17.66,1065)(17.7,1045)(17.74,1027)(17.77,1005)(17.8,995)(17.83,1030)(17.86,1067)(17.9,1085)(17.96,1097)(18.05,1107)(18.2,1113)(18.4,1118)(18.55,1113)(18.7,1105)(18.78,1097)(18.84,1102)(18.9,1110)(19.0,1122)(19.15,1128)(19.3,1125)(19.45,1120)(19.6,1112)(19.7,1107)(19.8,1110)(19.9,1115)(20.0,1120)(20.15,1118)(20.3,1122)(20.5,1117)(20.65,1120)(20.8,1115)(20.85,1082)(20.88,977)(20.9,1013)(20.93,1092)(20.95,1108)(21.0,1112)(21.1,1120)(21.25,1125)(21.4,1120)(21.55,1128)(21.7,1122)(21.85,1126)(22.0,1118)(22.15,1124)(22.3,1128)(22.45,1122)(22.6,1127)(22.75,1121)(22.9,1126)(23.05,1120)(23.2,1125)(23.35,1118)(23.5,1113)(23.6,1118)(23.75,1124)(23.9,1120)(24.05,1125)(24.2,1119)(24.35,1115)(24.5,1107)(24.6,1100)(24.68,1092)(24.73,1063)(24.77,1038)(24.8,1018)(24.82,1012)(24.86,1045)(24.9,1073)(24.95,1082)(25.0,1087)(25.05,1073)(25.1,1058)(25.15,1047)(25.2,1045)(25.25,1073)(25.3,1097)(25.4,1100)(25.55,1107)(25.7,1108)(25.85,1110)(26.0,1117)(26.1,1107)(26.2,1093)(26.3,1080)(26.4,1063)(26.47,1040)(26.55,1025)(26.62,1010)(26.68,990)(26.73,975)(26.78,985)(26.85,1020)(26.9,1022)(26.95,1045)(27.0,1067)(27.05,1087)(27.1,1100)(27.2,1097)(27.4,1025)(27.45,1030)(27.48,1055)(27.55,1063)(27.65,1080)(27.7,1063)(27.75,1077)(27.72,1090)(27.8,1090)(27.77,1102)(27.85,1107)(27.95,1120)(28.1,1125)(28.3,1130)
(28.5,1127)(28.7,1131)(28.9,1126)(29.1,1130)(29.3,1125)(29.5,1120)(29.7,1116)(29.85,1120)(30.0,1127)(30.2,1131)(30.4,1126)(30.6,1130)(30.8,1125)(31.0,1129)(31.2,1124)(31.4,1120)(31.6,1113)(31.8,1122)(32.0,1128)(32.2,1132)(32.4,1127)(32.6,1131)(32.8,1126)(33.0,1130)(33.2,1125)(33.4,1129)(33.6,1124)(33.8,1128)(34.0,1123)(34.2,1120)(34.4,1118)(34.6,1115)(34.8,1113)(35.0,1118)(35.2,1123)(35.4,1127)(35.6,1122)(35.8,1117)(35.95,1110)(36.05,1113)(36.2,1120)(36.35,1117)(36.45,1100)(36.5,1108)(36.55,1120)(36.7,1126)(36.9,1130)(37.1,1127)(37.3,1122)(37.5,1118)(37.7,1115)(37.85,1122)(38.0,1128)(38.2,1131)(38.4,1126)(38.6,1130)(38.8,1126)(39.0,1122)(39.2,1118)(39.35,1113)(39.45,1117)(39.6,1124)(39.8,1128)(40.0,1124)(40.2,1120)(40.4,1126)(40.6,1130)(40.8,1126)(41.0,1129)(41.2,1124)(41.4,1128)(41.6,1123)(41.8,1127)(42.0,1122)(42.2,1118)(42.35,1108)(42.4,1105)(42.45,1113)(42.55,1120)(42.7,1126)(42.9,1130)(43.1,1126)(43.3,1131)(43.5,1127)(43.7,1131)(43.9,1126)(44.1,1130)(44.3,1125)(44.5,1128)(44.7,1124)(44.85,1118)(45.0,1110)(45.1,1100)(45.18,1090)(45.25,1077)(45.32,1063)(45.38,1053)(45.45,1048)(45.5,1055)(45.55,1063)(45.6,1077)(45.67,1087)(45.75,1100)(45.85,1113)(46.0,1125)(46.2,1130)(46.4,1134)(46.6,1130)(46.8,1135)(47.0,1131)(47.2,1136)(47.4,1132)(47.6,1137)(47.8,1133)(48.0,1138)(48.2,1134)(48.4,1138)(48.6,1133)(48.8,1137)(48.95,1134)
(28.6,1129)(28.8,1125)(29.0,1130)(29.2,1127)(29.4,1122)(29.6,1118)(29.8,1115)(30.0,1122)(30.2,1127)(30.4,1130)(30.6,1126)(30.8,1129)(31.0,1124)(31.2,1128)(31.4,1118)(31.6,1118)(31.8,1126)(32.0,1130)(32.2,1127)(32.4,1131)(32.6,1126)(32.8,1130)(33.0,1126)(33.2,1128)(33.4,1124)(33.6,1128)(33.8,1123)(34.0,1126)(34.2,1122)(34.4,1117)(34.6,1113)(34.8,1116)(35.0,1120)(35.2,1125)(35.4,1121)(35.6,1125)(35.8,1119)(36.0,1108)(36.2,1116)(36.4,1118)(36.6,1124)(36.8,1128)(37.0,1124)(37.2,1127)(37.4,1120)(37.6,1117)(37.8,1120)(38.0,1125)(38.2,1128)(38.4,1130)(38.6,1127)(38.8,1130)(39.0,1125)(39.2,1121)(39.4,1115)(39.6,1120)(39.8,1126)(40.0,1128)(40.2,1118)(40.4,1123)(40.6,1127)(40.8,1130)(41.0,1125)(41.2,1129)(41.4,1125)(41.6,1128)(41.8,1124)(42.0,1127)(42.2,1121)(42.4,1112)(42.6,1124)(42.8,1128)(43.0,1131)(43.2,1127)(43.4,1130)(43.6,1126)(43.8,1129)(44.0,1126)(44.2,1130)(44.4,1127)(44.6,1123)(44.8,1116)(45.0,1105)(45.2,1085)(45.4,1050)(45.6,1080)(45.8,1107)(46.0,1120)(46.2,1127)(46.4,1131)(46.6,1135)(46.8,1132)(47.0,1136)(47.2,1133)(47.4,1137)(47.6,1134)(47.8,1138)(48.0,1135)(48.2,1139)(48.4,1135)(48.6,1139)(48.8,1135)};
% ---------------- reference band and peak markers ----------------
\addplot[black!40, line width=5.5bp, no marks] coordinates {(14.09,201)(14.09,1157)};
\addplot[only marks, mark=triangle*, mark size=5.8bp, mark options={rotate=180, fill=black, draw=black}] coordinates {(20.80,76)(26.74,19)};
\addplot[only marks, mark=triangle*, mark size=5.8bp, mark options={rotate=180, fill=black!50, draw=black!50}] coordinates {(19.81,211)};
\addplot[only marks, mark=triangle, mark size=5.6bp, mark options={rotate=180, draw=black, fill=white, line width=0.8bp}] coordinates {(27.48,153)(27.97,193)};
% ---------------- labels ----------------
\node[yearlab] at (axis cs:38.35,208) {1904};
\node[yearlab] at (axis cs:38.35,382) {1957};
\node[yearlab] at (axis cs:38.35,556) {1980};
\node[yearlab] at (axis cs:38.35,729.5) {1997};
\node[yearlab] at (axis cs:38.35,903) {2013};
\node[yearlab] at (axis cs:38.35,1078) {2014};
\node[font=\fontsize{21bp}{25bp}\selectfont, anchor=base, inner sep=0pt] at (axis cs:46.17,97) {a) CF};
\coordinate (bl) at (axis cs:-0.7916,1213);
\coordinate (tr) at (axis cs:51.099,0);
\end{axis}
\pgfresetboundingbox
\path[use as bounding box] (bl) rectangle (tr);
\end{tikzpicture}
\end{document}
